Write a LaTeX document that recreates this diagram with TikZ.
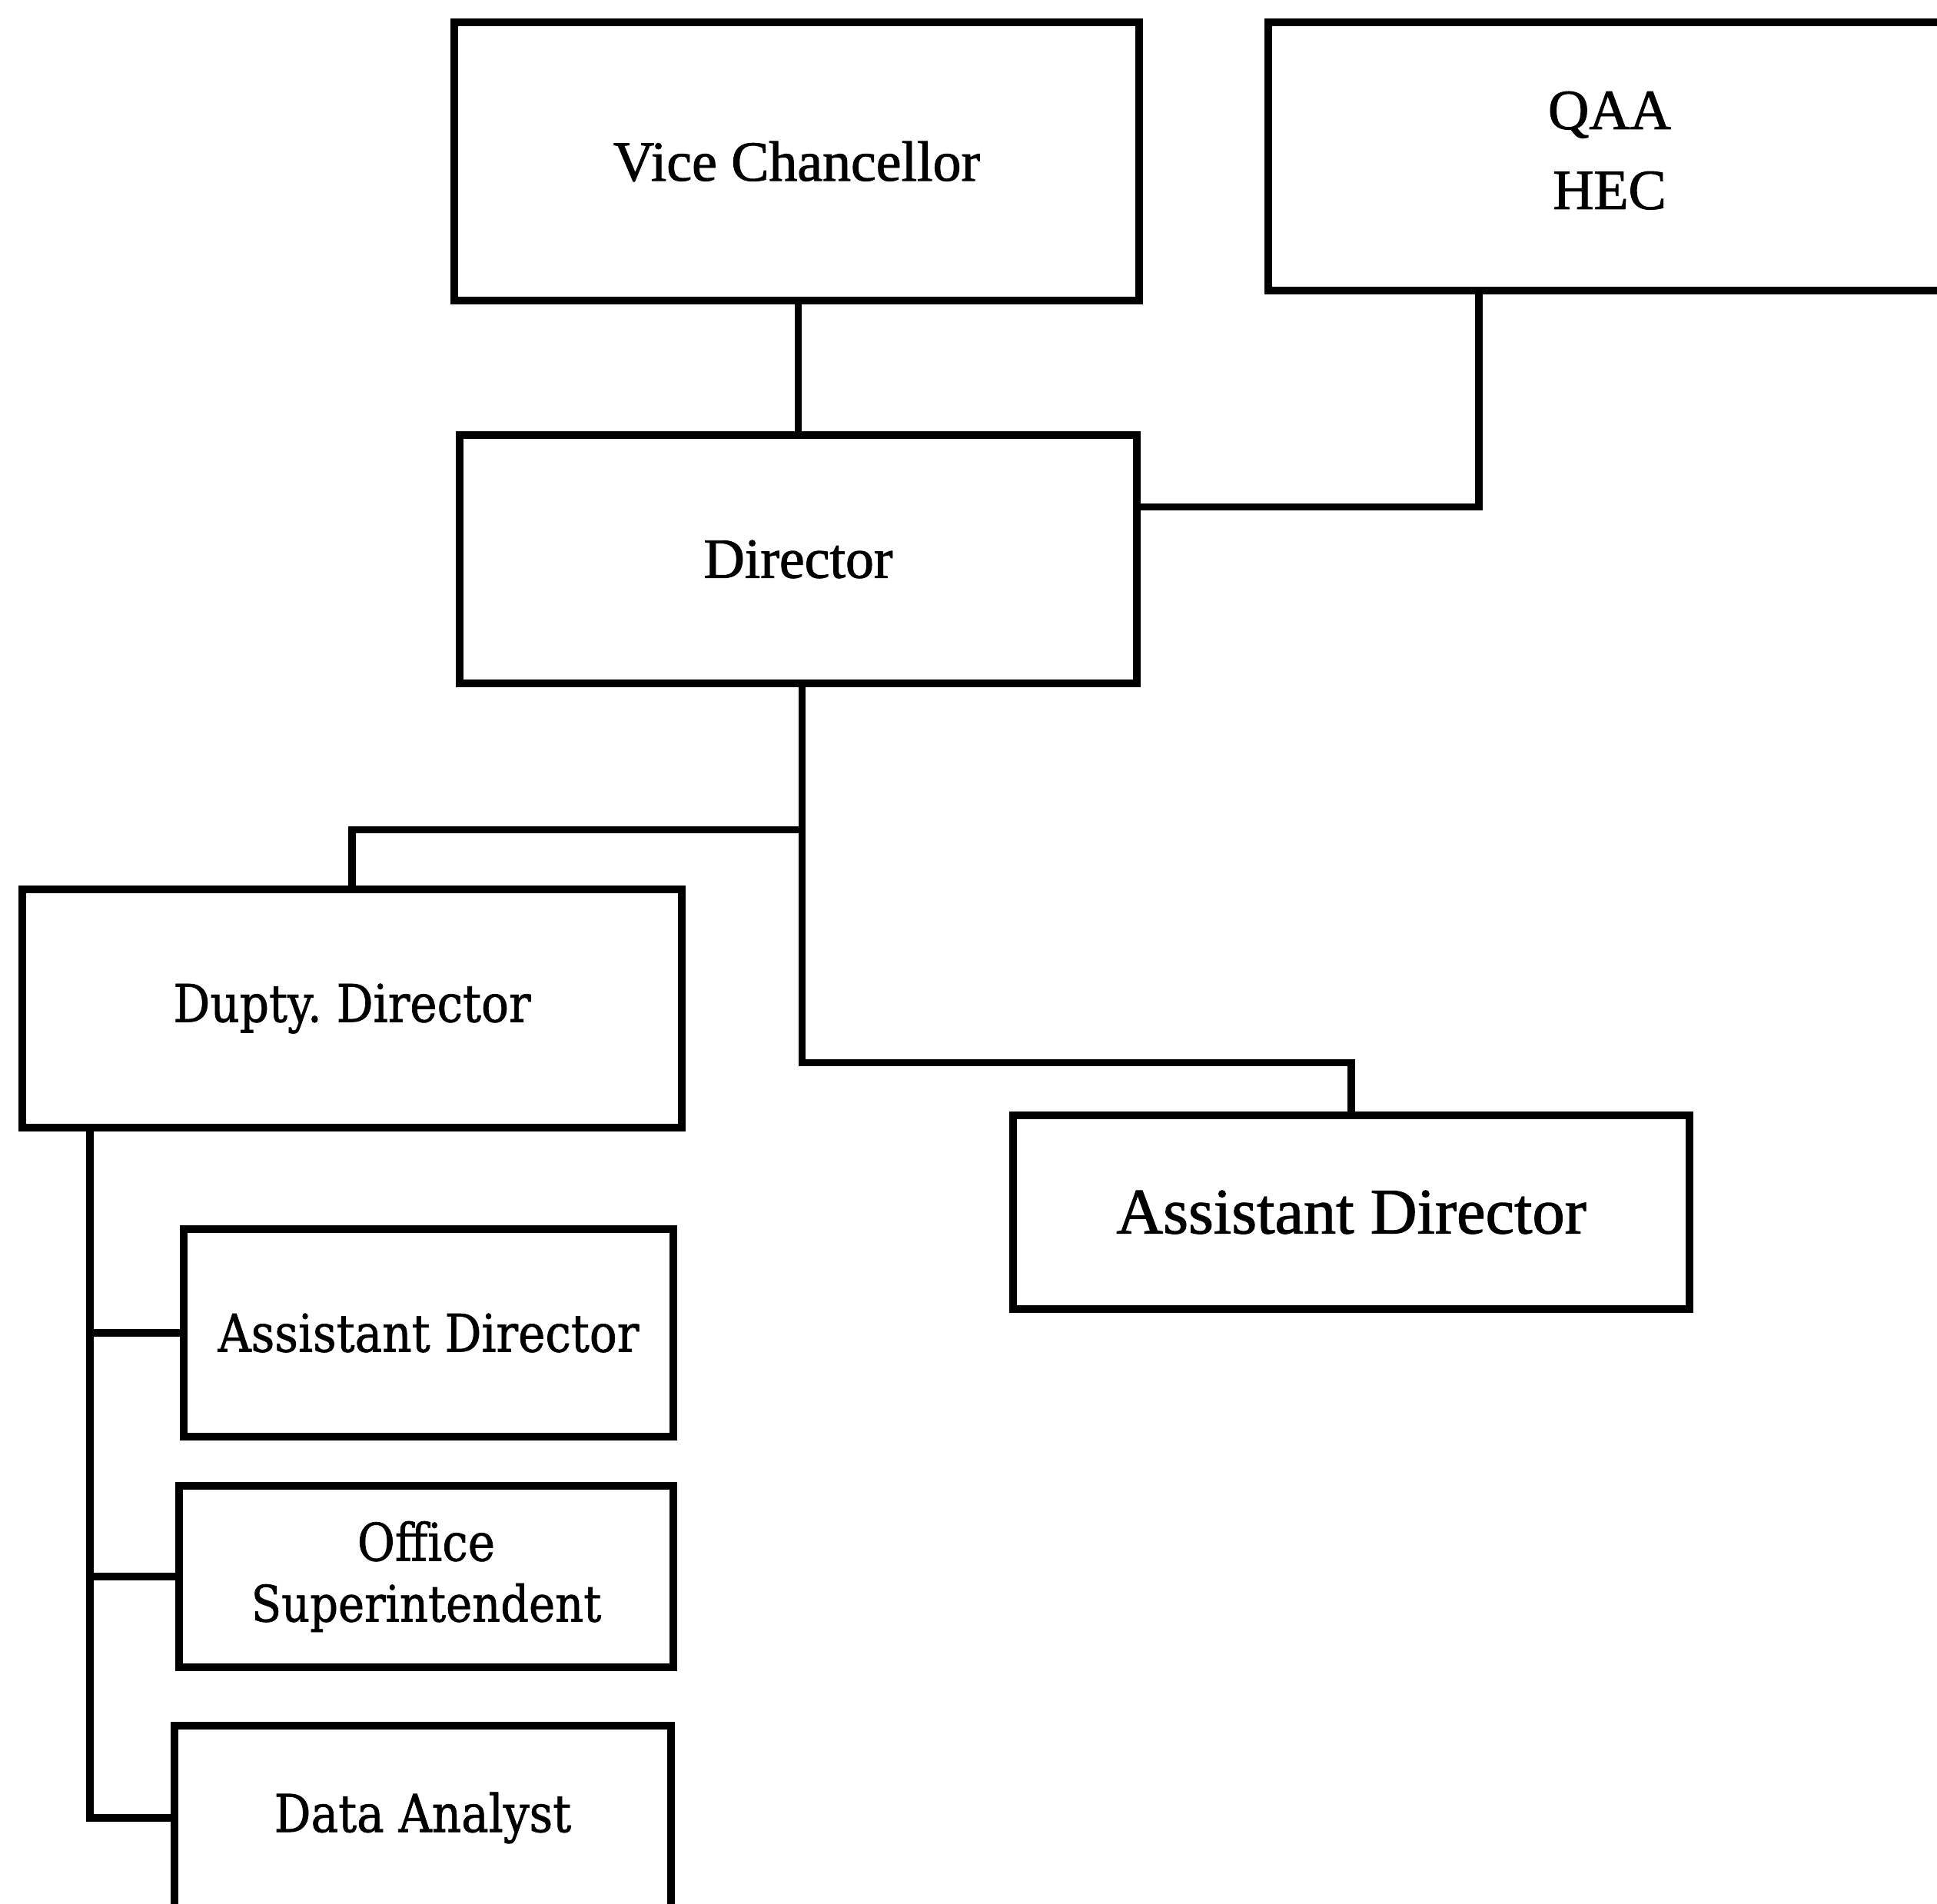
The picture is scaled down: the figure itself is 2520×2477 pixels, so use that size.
\documentclass[tikz,border=0pt]{standalone}
\usepackage{fontspec}
\setmainfont{Liberation Serif}[FakeBold=1.3]
\newfontfamily\wideserif{DejaVu Serif}[FakeStretch=0.88,FakeBold=1.0]
\usetikzlibrary{calc}
\frenchspacing
\begin{document}
\begin{tikzpicture}[x=0.1mm,y=-0.1mm,
  box/.style={draw,line width=1.05mm,inner sep=0pt,align=center},
  conn/.style={line width=0.95mm},
  toptext/.style={font=\fontsize{21}{29.6}\selectfont},
  bigtext/.style={font=\fontsize{24}{29}\selectfont},
  lefttext/.style={font=\wideserif\fontsize{19.3}{22.5}\selectfont}]
\useasboundingbox[fill=white] (0,0) rectangle (2520,2477);
\node[box,toptext,minimum width=89.1mm,minimum height=36.2mm] (vc) at (1036.5,210) {Vice Chancellor};
\node[box,toptext,minimum width=88.8mm,minimum height=34.9mm] (qaa) at (2094,203.5) {QAA\\HEC\\[-25pt]};
\node[box,toptext,minimum width=88.1mm,minimum height=32.3mm] (dir) at (1038.5,727.5) {Director};
\node[box,lefttext,minimum width=85.8mm,minimum height=31.0mm] (dd) at (458,1312) {Dupty. Director};
\node[box,bigtext,minimum width=88.0mm,minimum height=25.2mm] (rad) at (1758,1577) {Assistant Director};
\node[box,lefttext,minimum width=63.7mm,minimum height=27.0mm] (ad) at (557.5,1734) {Assistant Director};
\node[box,lefttext,minimum width=64.3mm,minimum height=23.6mm] (os) at (554.5,2051) {Office\\\fontsize{18.6}{22.5}\selectfont Superintendent};
\node[box,lefttext,minimum width=64.6mm,minimum height=24.0mm] (da) at (550,2365) {Data Analyst};
% connectors
\draw[conn] (dir.north |- vc.south) -- (dir.north);
\draw[conn] ($(qaa.south)+(-170,0)$) |- ($(dir.east)+(0,-68)$);
\coordinate (top) at ($(dir.south)+(5,0)$);
\coordinate (bend) at ($(top)+(0,185)$);
\draw[conn] (top) -- ($(top)+(0,488)$) -| (rad.north);
\draw[conn] (bend) -| (dd.north);
\coordinate (trunk) at ($(dd.south west)+(93,0)$);
\draw[conn] (trunk) |- (da.west);
\draw[conn] (trunk |- ad.west) -- (ad.west);
\draw[conn] (trunk |- os.west) -- (os.west);
\end{tikzpicture}
\end{document}
